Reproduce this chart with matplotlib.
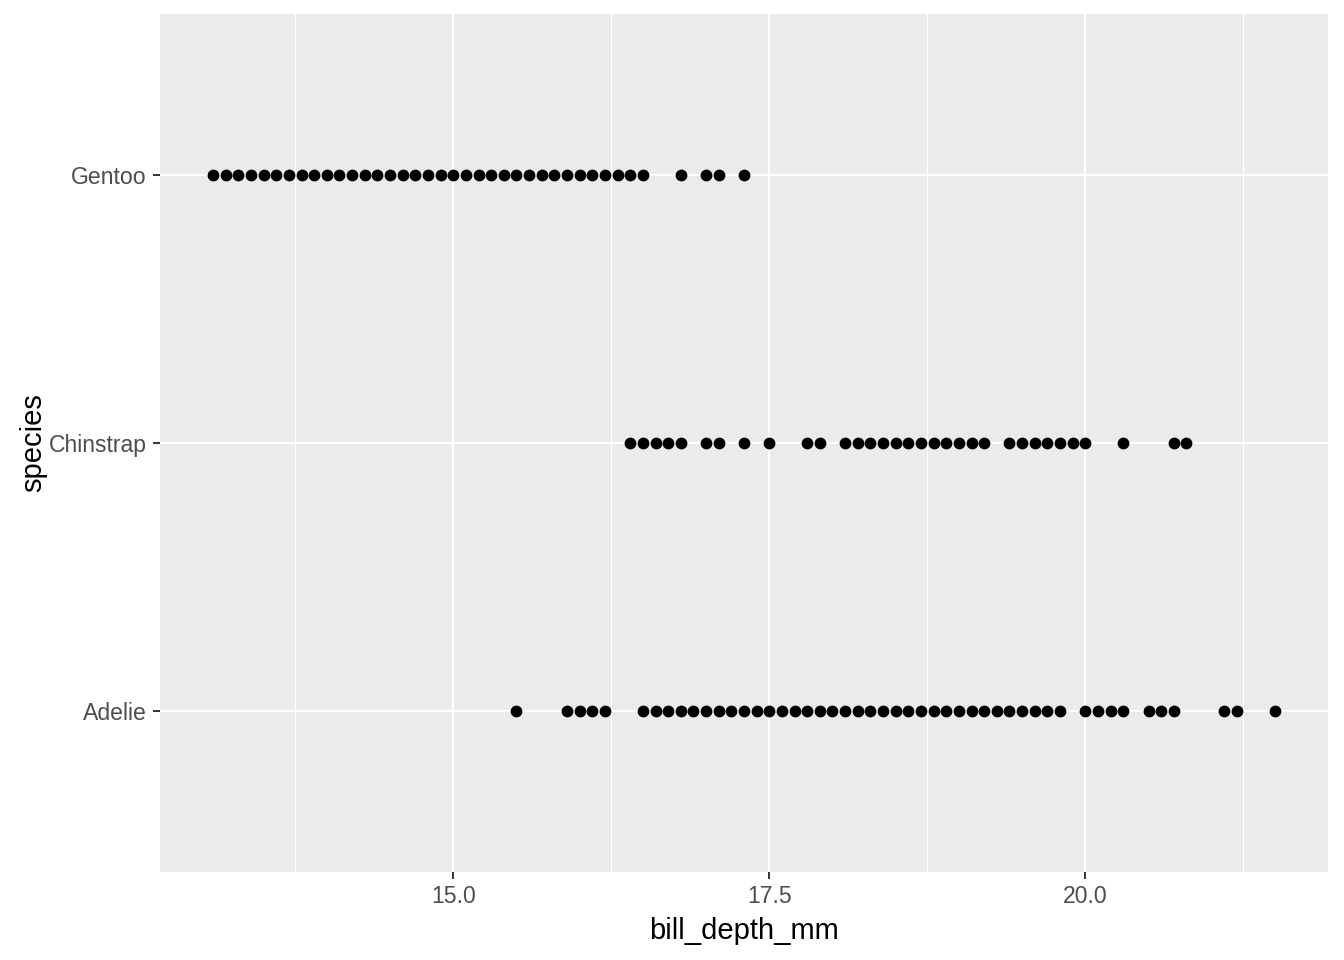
import numpy as np
import matplotlib
matplotlib.use("Agg")
import matplotlib.pyplot as plt

plt.rcParams['font.family'] = ['Liberation Sans', 'DejaVu Sans']

species = ["Adelie", "Chinstrap", "Gentoo"]

# bill depth values (distinct values per species)
gentoo = [13.1, 13.2, 13.3, 13.4, 13.5, 13.6, 13.7, 13.8, 13.9, 14.0,
          14.1, 14.2, 14.3, 14.4, 14.5, 14.6, 14.7, 14.8, 14.9, 15.0,
          15.1, 15.2, 15.3, 15.4, 15.5, 15.6, 15.7, 15.8, 15.9, 16.0,
          16.1, 16.2, 16.3, 16.4, 16.5, 16.8, 17.0, 17.1, 17.3]
chinstrap = [16.4, 16.5, 16.6, 16.7, 16.8, 17.0, 17.1, 17.3, 17.5, 17.8,
             17.9, 18.1, 18.2, 18.3, 18.4, 18.5, 18.6, 18.7, 18.8, 18.9,
             19.0, 19.1, 19.2, 19.4, 19.5, 19.6, 19.7, 19.8, 19.9, 20.0,
             20.3, 20.7, 20.8]
adelie = [15.5, 15.9, 16.0, 16.1, 16.2, 16.5, 16.6, 16.7, 16.8, 16.9,
          17.0, 17.1, 17.2, 17.3, 17.4, 17.5, 17.6, 17.7, 17.8, 17.9,
          18.0, 18.1, 18.2, 18.3, 18.4, 18.5, 18.6, 18.7, 18.8, 18.9,
          19.0, 19.1, 19.2, 19.3, 19.4, 19.5, 19.6, 19.7, 19.8, 20.0,
          20.1, 20.2, 20.3, 20.5, 20.6, 20.7, 21.1, 21.2, 21.5]

x_ticks = [15.0, 17.5, 20.0]
x_tick_labels = ["15.0", "17.5", "20.0"]
x_minor = [13.75, 16.25, 18.75, 21.25]

groups = {"Adelie": adelie, "Chinstrap": chinstrap, "Gentoo": gentoo}

fig = plt.figure(figsize=(13.44, 9.6), dpi=100)
ax = fig.add_axes([160/1344, 88/960, 1168/1344, 858/960])
ax.set_facecolor("#EBEBEB")

for i, sp in enumerate(species):
    vals = groups[sp]
    ax.scatter(vals, [i] * len(vals), s=72, color="black", linewidths=0, zorder=3)

allv = gentoo + chinstrap + adelie
lo, hi = min(allv), max(allv)
pad = (hi - lo) * 0.05
ax.set_xlim(lo - pad, hi + pad)
ax.set_ylim(-0.6, len(species) - 1 + 0.6)

for v in x_minor:
    ax.axvline(v, color="white", lw=0.75, zorder=1)
for v in x_ticks:
    ax.axvline(v, color="white", lw=1.5, zorder=1)
for i in range(len(species)):
    ax.axhline(i, color="white", lw=1.5, zorder=1)

ax.set_xticks(x_ticks)
ax.set_xticklabels(x_tick_labels)
ax.set_yticks(range(len(species)))
ax.set_yticklabels(species)
ax.tick_params(axis="both", length=5.3, width=1.4, color="#333333",
               labelsize=16.6, labelcolor="#4D4D4D", pad=4.2)

for s in ax.spines.values():
    s.set_visible(False)

ax.set_xlabel("bill_depth_mm", fontsize=21, color="black", labelpad=6)
ax.set_ylabel("species", fontsize=21, color="black", labelpad=1)

fig.savefig("out.png", dpi=100, facecolor="white")
